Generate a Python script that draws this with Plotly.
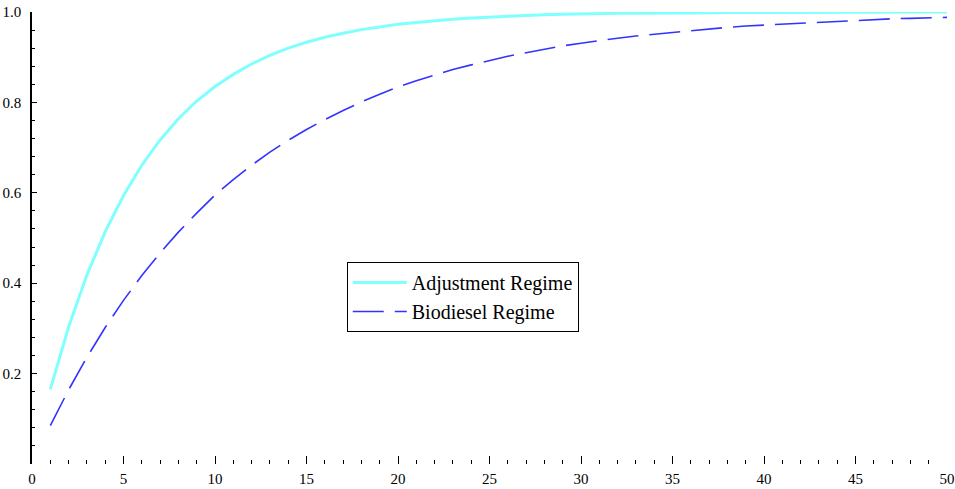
import plotly.graph_objects as go

x_vals = list(range(1, 51))

adjustment = [
    0.165, 0.303, 0.418, 0.514, 0.594, 0.661, 0.717, 0.764, 0.803, 0.835,
    0.862, 0.885, 0.904, 0.920, 0.933, 0.944, 0.953, 0.961, 0.967, 0.973,
    0.977, 0.981, 0.984, 0.987, 0.989, 0.991, 0.992, 0.994, 0.995, 0.996,
    0.996, 0.997, 0.997, 0.998, 0.998, 0.998, 0.999, 0.999, 0.999, 0.999,
    0.999, 0.999, 1.000, 1.000, 1.000, 1.000, 1.000, 1.000, 1.000, 1.000,
]

biodiesel = [
    0.085, 0.164, 0.236, 0.302, 0.362, 0.417, 0.467, 0.513, 0.555, 0.595,
    0.629, 0.661, 0.690, 0.716, 0.740, 0.762, 0.782, 0.801, 0.818, 0.834,
    0.848, 0.861, 0.873, 0.883, 0.893, 0.902, 0.910, 0.918, 0.925, 0.931,
    0.937, 0.942, 0.947, 0.951, 0.955, 0.959, 0.963, 0.966, 0.969, 0.971,
    0.974, 0.976, 0.978, 0.980, 0.982, 0.983, 0.985, 0.986, 0.987, 0.988,
]

x_ticks = [0, 5, 10, 15, 20, 25, 30, 35, 40, 45, 50]
y_ticks = [0.2, 0.4, 0.6, 0.8, 1.0]
y_tick_labels = ["0.2", "0.4", "0.6", "0.8", "1.0"]

fig = go.Figure()
fig.add_trace(go.Scatter(
    x=x_vals, y=adjustment, mode="lines", name="Adjustment Regime",
    line=dict(color="#80ffff", width=3),
))
fig.add_trace(go.Scatter(
    x=x_vals, y=biodiesel, mode="lines", name="Biodiesel Regime",
    line=dict(color="#3333ff", width=1.6, dash="31px,11px"),
))

font_family = "Liberation Serif, Times New Roman, serif"

fig.update_layout(
    width=955, height=489,
    margin=dict(l=32, r=8, t=12, b=25, autoexpand=False),
    paper_bgcolor="white", plot_bgcolor="white",
    font=dict(family=font_family, size=15, color="black"),
    showlegend=True,
    legend=dict(
        x=0.344, y=0.447, xanchor="left", yanchor="top",
        bgcolor="white", bordercolor="black", borderwidth=1,
        font=dict(family=font_family, size=20, color="black"),
        tracegroupgap=0, itemwidth=54,
        entrywidth=180, entrywidthmode="pixels",
    ),
    xaxis=dict(
        range=[0, 50], tickvals=x_ticks, ticktext=[str(v) for v in x_ticks],
        showgrid=False, zeroline=False, showline=False, automargin=False,
        ticks="inside", ticklen=8, tickwidth=1, tickcolor="black",
        minor=dict(dtick=1, tick0=0, ticks="inside", ticklen=4, tickwidth=1, tickcolor="black"),
        tickfont=dict(family=font_family, size=15, color="black"),
        ticklabeloverflow="allow", ticklabelstandoff=4,
    ),
    yaxis=dict(
        range=[0, 1.0], tickvals=y_ticks, ticktext=y_tick_labels,
        showgrid=False, zeroline=False, showline=True, linecolor="black", linewidth=1.5,
        automargin=False,
        ticks="inside", ticklen=5, tickwidth=1, tickcolor="black",
        minor=dict(dtick=0.04, tick0=0, ticks="inside", ticklen=3, tickwidth=1, tickcolor="black"),
        tickfont=dict(family=font_family, size=15, color="black"),
        ticklabelstandoff=6,
        ticklabeloverflow="allow",
    ),
)

# remove the browser's default 8px body margin so the figure fills the window
fig.write_html(
    "out.html",
    config={"displayModeBar": False},
    post_script="document.body.style.margin='0';",
)
